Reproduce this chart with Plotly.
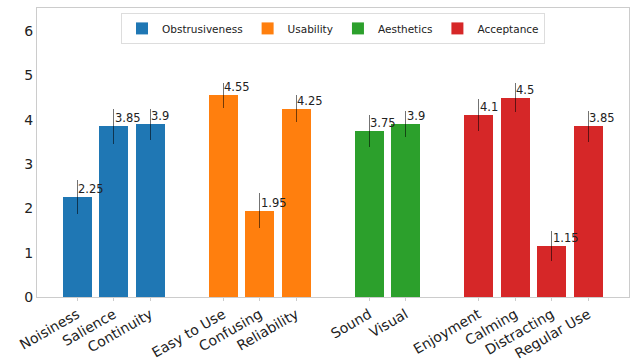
import plotly.graph_objects as go

# Survey ratings grouped by dimension
groups = ["Obstrusiveness", "Usability", "Aesthetics", "Acceptance"]
colors = ["#1f77b4", "#ff7f0e", "#2ca02c", "#d62728"]

obstrusiveness_labels = ["Noisiness", "Salience", "Continuity"]
obstrusiveness_means = [2.25, 3.85, 3.9]
obstrusiveness_err = [0.38, 0.39, 0.35]

usability_labels = ["Easy to Use", "Confusing", "Reliability"]
usability_means = [4.55, 1.95, 4.25]
usability_err = [0.28, 0.4, 0.3]

aesthetics_labels = ["Sound", "Visual"]
aesthetics_means = [3.75, 3.9]
aesthetics_err = [0.36, 0.29]

acceptance_labels = ["Enjoyment", "Calming", "Distracting", "Regular Use"]
acceptance_means = [4.1, 4.5, 1.15, 3.85]
acceptance_err = [0.36, 0.32, 0.34, 0.35]

series = [
    (obstrusiveness_labels, obstrusiveness_means, obstrusiveness_err),
    (usability_labels, usability_means, usability_err),
    (aesthetics_labels, aesthetics_means, aesthetics_err),
    (acceptance_labels, acceptance_means, acceptance_err),
]

FONT = "DejaVu Sans"
fig = go.Figure()
tickvals, ticktext = [], []
annotations = []
pos = 0
for name, color, (labels, means, errs) in zip(groups, colors, series):
    xs = list(range(pos, pos + len(labels)))
    pos += len(labels) + 1  # one empty slot between groups
    fig.add_trace(go.Bar(
        x=xs, y=means, name=name, width=0.8,
        marker=dict(color=color, line=dict(width=0)),
        error_y=dict(type="data", array=errs, visible=True,
                     color="rgba(0,0,0,0.55)", thickness=1.2, width=0),
    ))
    tickvals += xs
    ticktext += labels
    for x, m in zip(xs, means):
        annotations.append(dict(
            x=x, y=m, xref="x", yref="y", text=f"{m:g}", showarrow=False,
            xanchor="left", yanchor="bottom", xshift=-1, yshift=-1,
            font=dict(family=FONT, size=11.5, color="#222"),
        ))

fig.update_layout(
    width=633, height=361,
    margin=dict(l=37, r=4, t=8, b=64, autoexpand=False),
    paper_bgcolor="white", plot_bgcolor="white",
    font=dict(family=FONT, color="#222"),
    bargap=0, showlegend=True,
    legend=dict(
        orientation="h", x=0.5, xanchor="center", y=0.983, yanchor="top",
        bordercolor="#dddddd", borderwidth=1, bgcolor="white",
        font=dict(family=FONT, size=10.5, color="#222"),
        itemwidth=30, tracegroupgap=0, itemsizing="constant",
    ),
    annotations=annotations,
)
fig.update_xaxes(
    range=[-1.1, 15.12], tickvals=tickvals, ticktext=ticktext, automargin=False,
    tickangle=-30, tickfont=dict(family=FONT, size=14, color="#222"),
    showline=True, linecolor="#cccccc", linewidth=1, mirror=True,
    ticks="outside", ticklen=3, tickcolor="#cccccc", showgrid=False, zeroline=False,
)
fig.update_yaxes(
    range=[0, 6.52], tickvals=[0, 1, 2, 3, 4, 5, 6], automargin=False,
    tickfont=dict(family=FONT, size=14, color="#222"),
    showline=True, linecolor="#cccccc", linewidth=1, mirror=True,
    ticks="", showgrid=False, zeroline=False,
)

fig.write_html("out.html")
